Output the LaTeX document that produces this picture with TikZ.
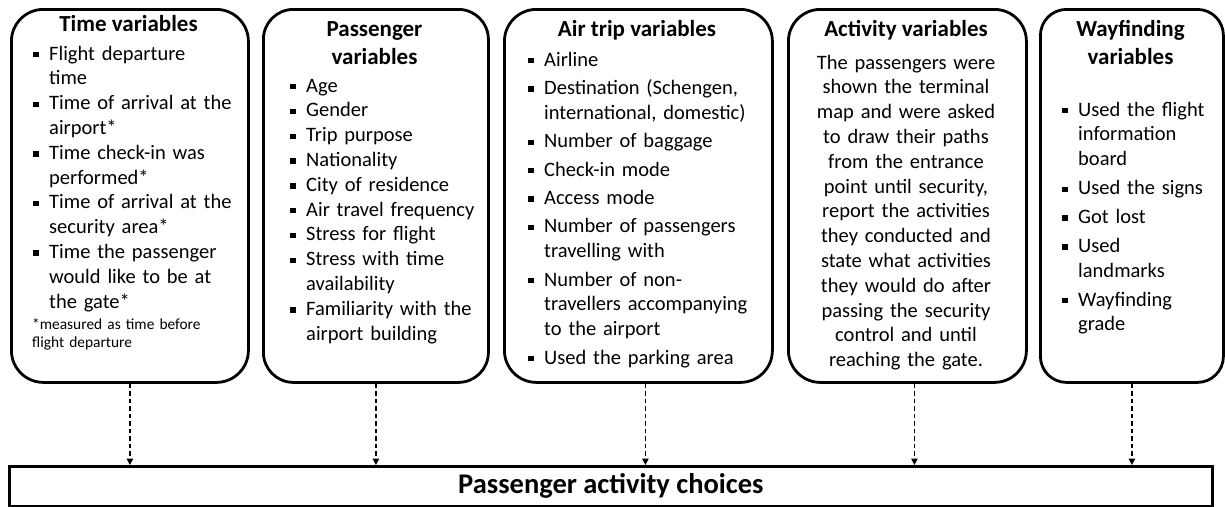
\documentclass[tikz,border=0pt]{standalone}
\usepackage{fontspec}
\setmainfont{Carlito}
\usetikzlibrary{arrows.meta}
\newcommand\bodyfont{\fontsize{20.5pt}{24.8pt}\selectfont}
\newcommand\ttlfont{\fontsize{23pt}{28pt}\selectfont\bfseries}
\newcommand\bigttlfont{\fontsize{28.5pt}{33pt}\selectfont\bfseries}
\newcommand\notefont{\fontsize{15.4pt}{18.5pt}\selectfont}
\newcommand\itm[1]{\hangindent=16pt\hangafter=1\makebox[16pt][l]{\rule[2.6pt]{5.4pt}{5.4pt}}#1\par}
\begin{document}
\begin{tikzpicture}[x=1pt,y=-1pt,
  rbox/.style={draw, line width=2.8pt, rounded corners=30pt, inner sep=0pt,
    minimum height=373pt, anchor=north west},
  ttl/.style={font=\ttlfont, inner sep=0pt, anchor=base, align=center},
  lst/.style={font=\bodyfont, inner sep=0pt, anchor=base west},
  conn/.style={line width=1.2pt, dash pattern=on 4.5pt off 3pt,
    -{Triangle[width=6.5pt,length=6.5pt]}}]
\useasboundingbox (0,0) rectangle (1225,506);

% boxes
\node[rbox, minimum width=237pt, rounded corners=32pt] (b1) at (10,8) {};
\node[rbox, minimum width=225pt] (b2) at (262,8) {};
\node[rbox, minimum width=268pt, rounded corners=32pt] (b3) at (503,8) {};
\node[rbox, minimum width=238pt, rounded corners=32pt] (b4) at (787,8) {};
\node[rbox, minimum width=183pt, rounded corners=26pt] (b5) at (1039,8) {};
\node[draw, line width=2.8pt, inner sep=0pt, minimum width=1203pt, minimum height=39.5pt,
  anchor=north west, font=\bigttlfont] (out) at (8,465) {Passenger activity choices};

% titles
\node[ttl] (h1) at (128.5,31) {Time variables};
\node[ttl, text width=220pt] (h2) at (374.5,36) {Passenger\\variables};
\node[ttl] (h3) at (637,36) {Air trip variables};
\node[ttl] (h4) at (906,36) {Activity variables};
\node[ttl, text width=180pt] (h5) at (1130.5,36) {Wayfinding\\variables};

% box 1
\node[lst, text width=212pt] (l1) at (33,60) {\raggedright
\itm{Flight departure\newline time}%
\itm{Time of arrival at the\newline airport*}%
\itm{Time check-in was\newline performed*}%
\itm{Time of arrival at the\newline security area*}%
\itm{Time the passenger\newline would like to be at\newline the gate*}};
\node[lst, font=\notefont, text width=212pt] (n1) at (32,329) {\raggedright
*measured as time before\newline flight departure};

% box 2
\node[lst, text width=195pt] (l2) at (290,92) {\raggedright
\itm{Age}%
\itm{Gender}%
\itm{Trip purpose}%
\itm{Nationality}%
\itm{City of residence}%
\itm{Air travel frequency}%
\itm{Stress for flight}%
\itm{Stress with time\newline availability}%
\itm{Familiarity with the\newline airport building}};

% box 3
\node[lst, text width=240pt] (l3) at (528,66) {\raggedright\setlength\parskip{3.6pt}%
\itm{Airline}%
\itm{Destination (Schengen,\newline international, domestic)}%
\itm{Number of baggage}%
\itm{Check-in mode}%
\itm{Access mode}%
\itm{Number of passengers\newline travelling with}%
\itm{Number of non-\newline travellers accompanying\newline to the airport}%
\itm{Used the parking area}};

% box 4
\node[font=\bodyfont, inner sep=0pt, anchor=base, align=center, text width=232pt] (l4) at (906,69) {%
The passengers were\\shown the terminal\\map and were asked\\to draw their paths\\from the entrance\\point until security,\\report the activities\\they conducted and\\state what activities\\they would do after\\passing the security\\control and until\\reaching the gate.};

% box 5
\node[lst, text width=158pt] (l5) at (1062,116) {\raggedright\setlength\parskip{4.1pt}%
\itm{Used the flight\newline information\newline board}%
\itm{Used the signs}%
\itm{Got lost}%
\itm{Used\newline landmarks}%
\itm{Wayfinding\newline grade}};

% connectors
\path ([xshift=7pt]b3.south) coordinate (a3);
\path ([xshift=7pt]b4.south) coordinate (a4);
\draw[conn] (b1.south) -- (b1.south |- out.north);
\draw[conn] (b2.south) -- (b2.south |- out.north);
\draw[conn] (a3) -- (a3 |- out.north);
\draw[conn] (a4) -- (a4 |- out.north);
\draw[conn] (b5.south) -- (b5.south |- out.north);
\end{tikzpicture}
\end{document}
